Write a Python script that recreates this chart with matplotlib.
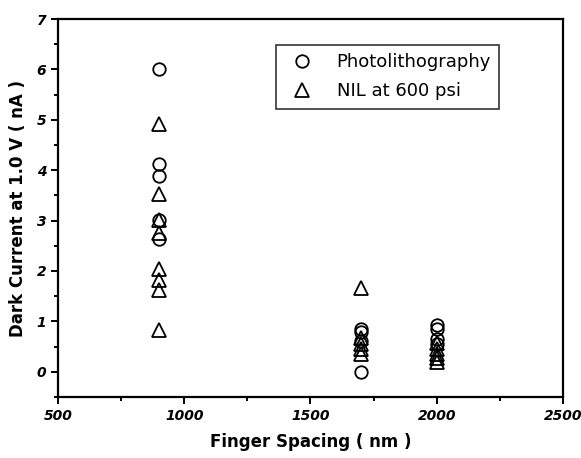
import matplotlib
matplotlib.use("Agg")
import matplotlib.pyplot as plt
from matplotlib.ticker import MultipleLocator

# Data
photo_x = [900, 900, 900, 900, 900,
           1700, 1700, 1700, 1700,
           2000, 2000, 2000, 2000]
photo_y = [6.0, 4.12, 3.88, 3.02, 2.64,
           0.85, 0.78, 0.62, 0.0,
           0.92, 0.85, 0.66, 0.55]
nil_x = [900, 900, 900, 900, 900, 900, 900, 900,
         1700, 1700, 1700, 1700, 1700,
         2000, 2000, 2000, 2000, 2000]
nil_y = [4.92, 3.53, 3.02, 2.76, 2.03, 1.82, 1.62, 0.82,
         1.67, 0.68, 0.55, 0.45, 0.35,
         0.58, 0.45, 0.35, 0.28, 0.2]

labels = ["Photolithography", "NIL at 600 psi"]

fig = plt.figure(figsize=(5.81, 4.58), dpi=100)
ax = fig.add_axes([0.0998, 0.1332, 0.8692, 0.8253])

ax.plot(photo_x, photo_y, linestyle="none", marker="o", markersize=9,
        markerfacecolor="none", markeredgecolor="black", markeredgewidth=1.3,
        label=labels[0])
ax.plot(nil_x, nil_y, linestyle="none", marker="^", markersize=10,
        markerfacecolor="none", markeredgecolor="black", markeredgewidth=1.3,
        label=labels[1])

ax.set_xlim(500, 2500)
ax.set_ylim(-0.5, 7)
ax.xaxis.set_major_locator(MultipleLocator(500))
ax.xaxis.set_minor_locator(MultipleLocator(250))
ax.yaxis.set_major_locator(MultipleLocator(1))
ax.yaxis.set_minor_locator(MultipleLocator(0.5))

for s in ax.spines.values():
    s.set_linewidth(1.6)

ax.tick_params(which="both", direction="out", top=False, right=False, width=1.4)
ax.tick_params(which="major", length=5)
ax.tick_params(which="minor", length=3)

for lab in ax.get_xticklabels() + ax.get_yticklabels():
    lab.set_fontstyle("italic")
    lab.set_fontweight("bold")
    lab.set_fontsize(10)

ax.set_xlabel("Finger Spacing ( nm )", fontsize=12, fontweight="bold", labelpad=7)
ax.set_ylabel("Dark Current at 1.0 V ( nA )", fontsize=12, fontweight="bold", labelpad=7)

leg = ax.legend(loc="upper left", bbox_to_anchor=(0.432, 0.931), borderaxespad=0,
                fontsize=13, frameon=True, fancybox=False, edgecolor="black",
                handletextpad=0.9, borderpad=0.45, labelspacing=0.62,
                handlelength=2.0)
leg.get_frame().set_linewidth(1.2)

fig.savefig("out.png", dpi=100)
